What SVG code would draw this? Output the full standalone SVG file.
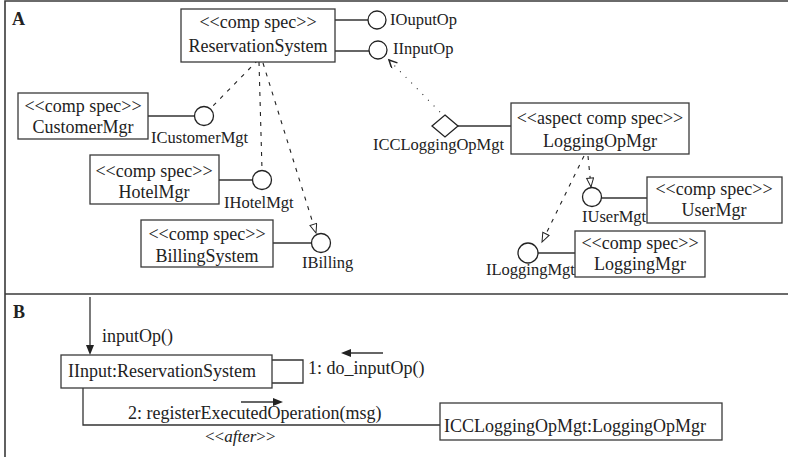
<svg xmlns="http://www.w3.org/2000/svg" width="788" height="457" viewBox="0 0 788 457">
  <style>
    .frame { stroke: #3a3a3a; stroke-width: 1.6; fill: none; }
    .box { fill: #ffffff; stroke: #3a3a3a; stroke-width: 1.3; }
    .iface { fill: #ffffff; stroke: #222; stroke-width: 1.3; }
    .link { stroke: #333; stroke-width: 1.3; fill: none; }
    .dep { stroke: #222; stroke-width: 1.1; fill: none; stroke-dasharray: 4 6; }
    .dot { stroke: #222; stroke-width: 1.1; fill: none; stroke-dasharray: 1 7; }
    text { font-family: "Liberation Serif", "Times New Roman", serif; fill: #222; }
    .t { font-size: 18px; text-anchor: middle; }
    .lbl { font-size: 16.5px; }
    .sec { font-size: 18px; font-weight: bold; }
  </style>
  <defs>
    <marker id="hollowTri" markerUnits="userSpaceOnUse" markerWidth="12" markerHeight="10" refX="10" refY="4" orient="auto">
      <path d="M1,0.5 L10,4 L1,7.5 Z" fill="#fff" stroke="#222" stroke-width="1" stroke-dasharray="none"/>
    </marker>
    <marker id="openV" markerUnits="userSpaceOnUse" markerWidth="12" markerHeight="10" refX="9" refY="4" orient="auto">
      <path d="M1,0 L9,4 L1,8" fill="none" stroke="#222" stroke-width="1.5" stroke-dasharray="none"/>
    </marker>
  </defs>

  <!-- frame and section divider -->
  <g id="frame">
    <path class="frame" d="M5,457 V1 H788"/>
    <line class="frame" x1="5" y1="294" x2="788" y2="294"/>
    <text class="sec" x="12" y="25">A</text>
    <text class="sec" x="13" y="318">B</text>
  </g>

  <!-- connectors -->
  <g id="connectors">
    <!-- provided interfaces -->
    <line class="link" x1="335" y1="20" x2="368" y2="20"/>
    <line class="link" x1="335" y1="51" x2="369" y2="51"/>
    <line class="link" x1="148" y1="116" x2="195" y2="116"/>
    <line class="link" x1="219" y1="180" x2="253" y2="180"/>
    <line class="link" x1="273" y1="243" x2="311" y2="243"/>
    <line class="link" x1="458" y1="126" x2="511" y2="126"/>
    <line class="link" x1="601" y1="198" x2="647" y2="198"/>
    <line class="link" x1="538" y1="253" x2="575" y2="253"/>
    <!-- usage dependencies -->
    <line class="dep" x1="258" y1="60" x2="211" y2="108"/>
    <line class="dep" x1="259" y1="62" x2="262" y2="170"/>
    <line class="dep" x1="263" y1="63" x2="316" y2="233" marker-end="url(#hollowTri)"/>
    <line class="dep" x1="588" y1="156" x2="591" y2="187" marker-end="url(#hollowTri)"/>
    <line class="dep" x1="584" y1="156" x2="542" y2="242" marker-end="url(#hollowTri)"/>
    <!-- crosscut -->
    <line class="dot" x1="440" y1="112" x2="389" y2="60" marker-end="url(#openV)"/>

    <!-- section B messages -->
    <line class="link" x1="90" y1="297" x2="90" y2="346"/>
    <polygon points="86,345 94,345 90,355" fill="#222"/>
    <path class="link" d="M272,360 H303 V383 H272"/>
    <line class="link" x1="350" y1="353" x2="383" y2="353"/>
    <polygon points="341,353 351,349 351,357" fill="#222"/>
    <path class="link" d="M83,388 V425 H440"/>
    <line class="link" x1="241" y1="402" x2="274" y2="402"/>
    <polygon points="283,402 273,398 273,406" fill="#222"/>
  </g>

  <!-- section A nodes -->
  <g id="reservationSystem">
    <rect class="box" x="181" y="9" width="154" height="53"/>
    <text class="t" x="258" y="28">&lt;&lt;comp spec&gt;&gt;</text>
    <text class="t" x="258" y="52">ReservationSystem</text>
  </g>
  <g id="iOutputOp">
    <circle class="iface" cx="377" cy="20" r="9"/>
    <text class="lbl" x="390" y="25">IOuputOp</text>
  </g>
  <g id="iInputOp">
    <circle class="iface" cx="378" cy="50" r="9"/>
    <text class="lbl" x="393" y="54">IInputOp</text>
  </g>

  <g id="customerMgr">
    <rect class="box" x="18" y="93" width="130" height="46"/>
    <text class="t" x="83" y="112">&lt;&lt;comp spec&gt;&gt;</text>
    <text class="t" x="83" y="133">CustomerMgr</text>
  </g>
  <g id="iCustomerMgt">
    <circle class="iface" cx="204" cy="116" r="9.5"/>
    <text class="lbl" x="151" y="143">ICustomerMgt</text>
  </g>

  <g id="hotelMgr">
    <rect class="box" x="90" y="155" width="129" height="49"/>
    <text class="t" x="154" y="177">&lt;&lt;comp spec&gt;&gt;</text>
    <text class="t" x="154" y="198">HotelMgr</text>
  </g>
  <g id="iHotelMgt">
    <circle class="iface" cx="262" cy="180" r="9.5"/>
    <text class="lbl" x="224" y="208">IHotelMgt</text>
  </g>

  <g id="billingSystem">
    <rect class="box" x="141" y="220" width="132" height="47"/>
    <text class="t" x="207" y="240">&lt;&lt;comp spec&gt;&gt;</text>
    <text class="t" x="207" y="262">BillingSystem</text>
  </g>
  <g id="iBilling">
    <circle class="iface" cx="321" cy="243" r="9.5"/>
    <text class="lbl" x="302" y="268">IBilling</text>
  </g>

  <g id="loggingOpMgr">
    <rect class="box" x="511" y="103" width="178" height="51"/>
    <text class="t" x="600" y="124">&lt;&lt;aspect comp spec&gt;&gt;</text>
    <text class="t" x="600" y="147">LoggingOpMgr</text>
  </g>
  <g id="iccLoggingOpMgt">
    <polygon class="iface" points="445,115 458,126 445,137 432,126"/>
    <text class="lbl" x="373" y="150">ICCLoggingOpMgt</text>
  </g>

  <g id="userMgr">
    <rect class="box" x="647" y="177" width="135" height="46"/>
    <text class="t" x="714" y="195">&lt;&lt;comp spec&gt;&gt;</text>
    <text class="t" x="714" y="216">UserMgr</text>
  </g>
  <g id="iUserMgt">
    <circle class="iface" cx="592" cy="197" r="9.5"/>
    <text class="lbl" x="582" y="222">IUserMgt</text>
  </g>

  <g id="loggingMgr">
    <rect class="box" x="575" y="231" width="130" height="46"/>
    <text class="t" x="640" y="249">&lt;&lt;comp spec&gt;&gt;</text>
    <text class="t" x="640" y="270">LoggingMgr</text>
  </g>
  <g id="iLoggingMgt">
    <circle class="iface" cx="528" cy="253" r="10"/>
    <text class="lbl" x="486" y="275">ILoggingMgt</text>
  </g>

  <!-- section B nodes -->
  <g id="inputReservation">
    <rect class="box" x="61" y="355" width="211" height="33"/>
    <text x="68" y="377" font-size="18">IInput:ReservationSystem</text>
  </g>
  <g id="iccLoggingInstance">
    <rect class="box" x="440" y="403" width="282" height="37"/>
    <text x="444" y="432" font-size="18">ICCLoggingOpMgt:LoggingOpMgr</text>
  </g>

  <!-- message labels -->
  <g id="messages">
    <text x="102" y="342" font-size="18">inputOp()</text>
    <text x="308" y="374" font-size="18">1: do_inputOp()</text>
    <text x="128" y="419" font-size="18">2: registerExecutedOperation(msg)</text>
    <text x="205" y="442" font-size="17">&lt;&lt;<tspan font-style="italic">after</tspan>&gt;&gt;</text>
  </g>
</svg>
